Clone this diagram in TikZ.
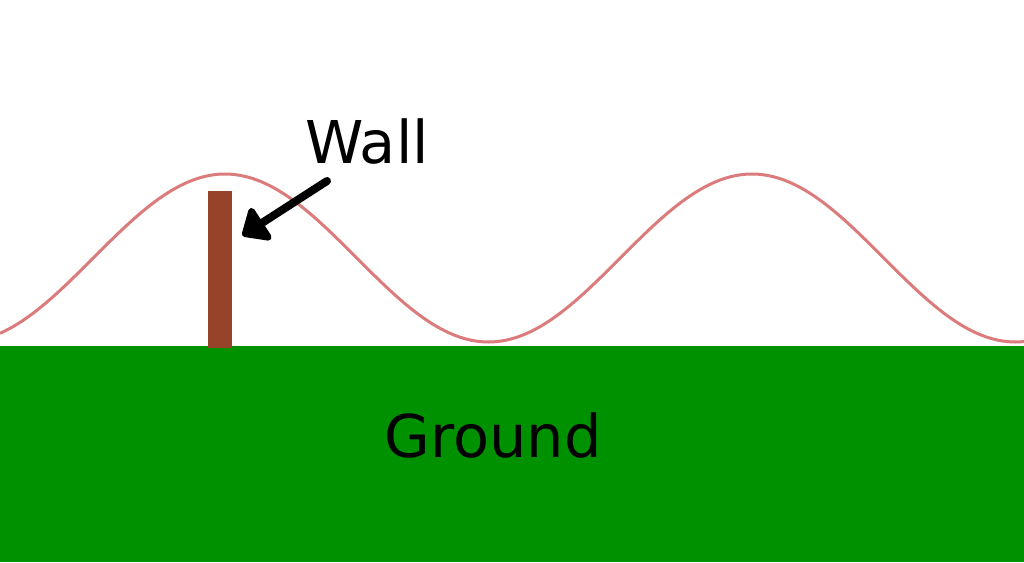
\documentclass[tikz,border=0pt]{standalone}
\usepackage{fontspec}
\setmainfont{DejaVu Sans}
\definecolor{WaveRed}{HTML}{DC7B7B}
\definecolor{GroundGreen}{HTML}{009100}
\definecolor{WallBrown}{HTML}{96432A}
\usetikzlibrary{arrows.meta, positioning}

\begin{document}
\begin{tikzpicture}[x=1pt, y=-1pt,
    label text/.style={inner sep=0pt, anchor=base, font=\fontsize{59}{59}\selectfont}]
    \useasboundingbox (0,0) rectangle (1024,562);
    % Ground
    \fill[GroundGreen] (0,346) rectangle (1024,562);
    \node[label text] (ground) at (493,457) {Ground};
    % Wave: peaks at x=225 and x=752, period 527
    \draw[WaveRed, line width=3pt, domain=0:1024, samples=240]
       plot (\x, {258-84*cos(0.68311*(\x-225))});
    % Wall
    \node[fill=WallBrown, inner sep=0pt, minimum width=24pt, minimum height=157pt,
       anchor=south west] (wall) at (208,348) {};
    % Label and arrow
    \node[label text] (walllabel) at (367,163) {Wall};
    \coordinate (arrowstart) at (327,181);
    \coordinate (arrowtip) at ([xshift=10pt, yshift=-45pt]wall.north east);
    \draw[-{Triangle[length=26pt, width=44pt, round]}, line width=8pt, line cap=round]
       (arrowstart) -- (arrowtip);
\end{tikzpicture}
\end{document}
